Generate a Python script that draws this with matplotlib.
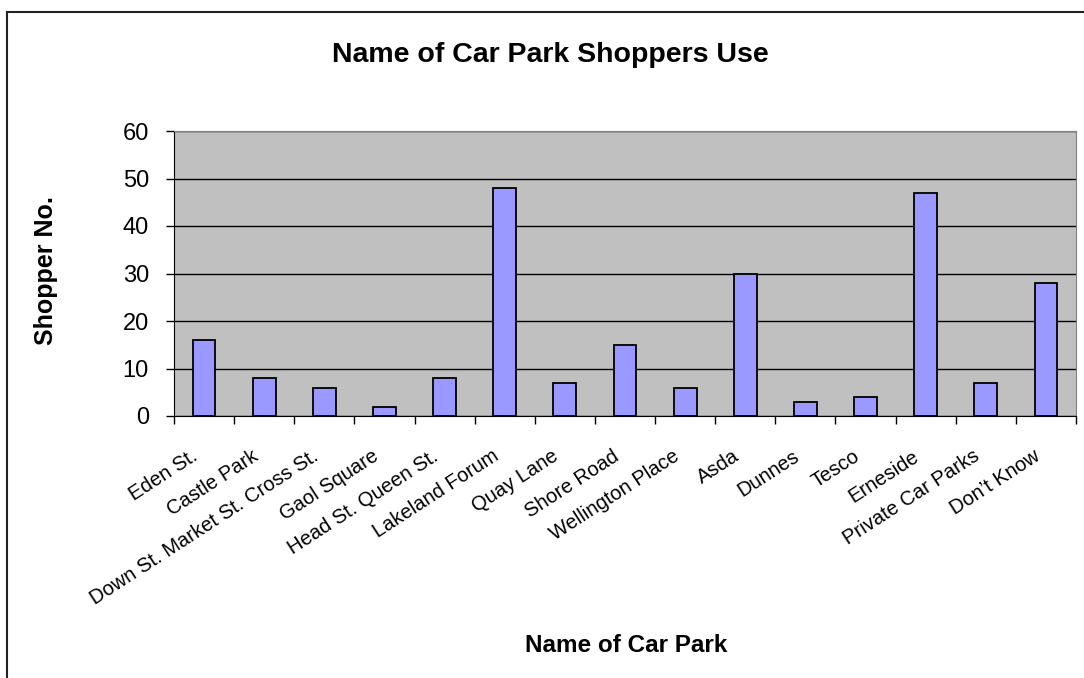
import matplotlib
matplotlib.use("Agg")
import matplotlib.pyplot as plt
from matplotlib.lines import Line2D

categories = ["Eden St.", "Castle Park", "Down St. Market St. Cross St.", "Gaol Square",
              "Head St. Queen St.", "Lakeland Forum", "Quay Lane", "Shore Road",
              "Wellington Place", "Asda", "Dunnes", "Tesco", "Erneside",
              "Private Car Parks", "Don\u2019t Know"]
values = [16, 8, 6, 2, 8, 48, 7, 15, 6, 30, 3, 4, 47, 7, 28]
yticks = [0, 10, 20, 30, 40, 50, 60]

plt.rcParams['font.family'] = ['Liberation Sans', 'DejaVu Sans']

W, H = 1084, 678
fig = plt.figure(figsize=(W / 100, H / 100), dpi=100)
# outer chart border (top and left visible)
fig.add_artist(Line2D([7 / W, 1.01], [1 - 12 / H, 1 - 12 / H], transform=fig.transFigure,
                      color='#222222', linewidth=1.5))
fig.add_artist(Line2D([7 / W, 7 / W], [1 - 12 / H, -0.01], transform=fig.transFigure,
                      color='#222222', linewidth=1.5))

ax = fig.add_axes([174 / W, 1 - 416 / H, (1076 - 174) / W, (416 - 131) / H])
ax.set_facecolor('#C0C0C0')
x = list(range(len(categories)))
ax.bar(x, values, width=0.38, color='#9999FF', edgecolor='black', linewidth=1.3, zorder=3)
ax.set_xlim(-0.5, len(categories) - 0.5)
ax.set_ylim(0, 60)
ax.set_yticks(yticks)
ax.set_yticklabels([str(v) for v in yticks], fontsize=17)
ax.yaxis.grid(True, color='black', linewidth=1)
ax.set_axisbelow(True)
ax.set_xticks([i - 0.5 for i in range(len(categories) + 1)], minor=False)
ax.set_xticklabels([])
# label anchors sit slightly left of each category centre, as in the original
ax.set_xticks([i - 0.22 for i in x], minor=True)
ax.set_xticklabels(categories, minor=True, rotation=33, ha='right', va='top',
                   rotation_mode='anchor', fontsize=14.5)
ax.tick_params(axis='x', which='minor', length=0, pad=22)
ax.tick_params(axis='x', which='major', length=6, direction='out', width=1)
ax.tick_params(axis='y', length=6, direction='out', width=1, pad=12)
for s in ['top', 'right']:
    ax.spines[s].set_color('#808080')
for s in ['left', 'bottom']:
    ax.spines[s].set_color('black')
fig.text(46 / W, 1 - 271 / H, 'Shopper No.', ha='center', va='center', rotation=90,
         fontsize=18, fontweight='bold')
fig.text(626 / W, 1 - 645 / H, 'Name of Car Park', ha='center', va='center',
         fontsize=17.5, fontweight='bold')
fig.text(550 / W, 1 - 55 / H, 'Name of Car Park Shoppers Use', ha='center', va='center',
         fontsize=20.5, fontweight='bold')
fig.savefig('out.png', dpi=100)
